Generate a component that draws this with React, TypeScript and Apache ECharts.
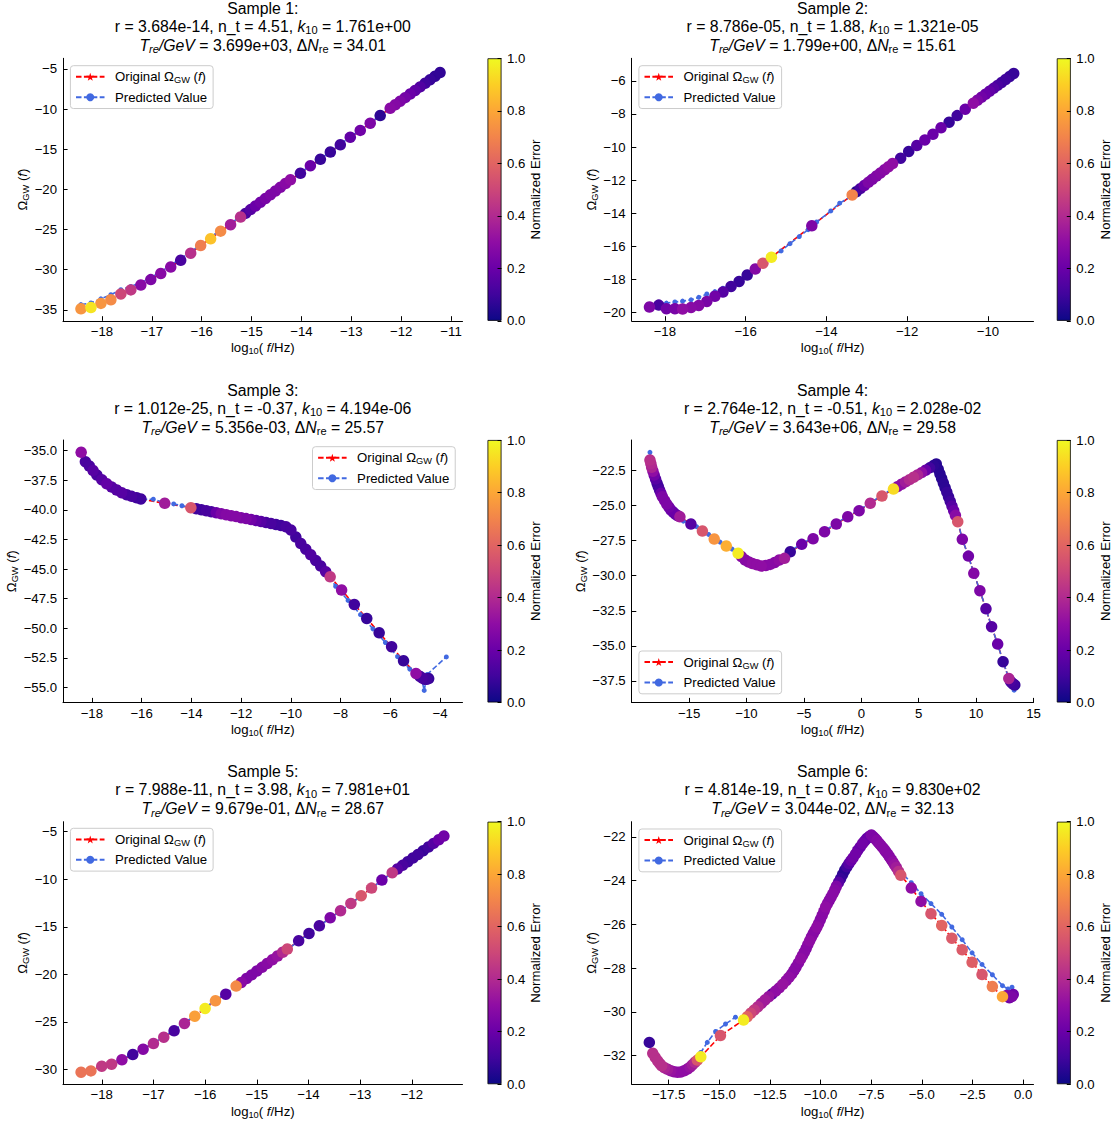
import React, { useEffect, useRef } from 'react';
import * as echarts from 'echarts';

// ---------------- Data ----------------
// Sample 1
const s1X = [-18.42,-18.22,-18.02,-17.82,-17.62,-17.42,-17.22,-17.02,-16.82,-16.62,-16.42,-16.22,-16.02,-15.82,-15.62,-15.42,-15.22,
  -15.12,-15.02,-14.92,-14.82,-14.72,-14.62,-14.52,-14.42,-14.32,-14.22,
  -14.02,-13.82,-13.62,-13.42,-13.22,-13.02,-12.82,-12.62,-12.42,-12.22,
  -12.12,-12.02,-11.92,-11.82,-11.72,-11.62,-11.52,-11.42,-11.32,-11.22];
const s1Y = [-34.87,-34.72,-34.2,-33.76,-33.02,-32.52,-31.92,-31.24,-30.48,-29.68,-28.84,-27.95,-27.0,-26.15,-25.2,-24.4,-23.45,
  -22.99,-22.52,-22.06,-21.59,-21.13,-20.66,-20.2,-19.73,-19.27,-18.8,
  -18.0,-17.05,-16.25,-15.35,-14.45,-13.5,-12.65,-11.75,-10.8,-9.9,
  -9.46,-9.01,-8.57,-8.12,-7.68,-7.23,-6.79,-6.34,-5.9,-5.45];
const s1Err = [0.75,0.95,0.75,0.72,0.5,0.45,0.28,0.25,0.28,0.28,0.12,0.42,0.68,0.87,0.72,0.35,0.42,
  0.12,0.15,0.2,0.22,0.24,0.25,0.25,0.26,0.28,0.3,
  0.1,0.2,0.08,0.08,0.1,0.18,0.22,0.25,0.06,0.28,
  0.27,0.25,0.23,0.2,0.17,0.14,0.1,0.08,0.07,0.07];
const s1PX = [-18.42,-18.22,-18.02,-17.82,-17.62,-17.42,-17.22,-17.02,-16.82,-16.62,-16.42,-16.22,-16.02,-15.82,-15.62,-15.42,-15.22,
  -14.92,-14.62,-14.32,-14.02,-13.82,-13.62,-13.42,-13.22,-13.02,-12.82,-12.62,-12.42,-12.22,-11.92,-11.62,-11.22];
const s1PY = [-34.35,-34.15,-33.63,-33.12,-32.5,-32.1,-31.6,-31.0,-30.25,-29.45,-28.6,-27.85,-26.8,-25.95,-25.05,-24.25,-23.35,
  -22.06,-20.66,-19.27,-17.95,-17.0,-16.2,-15.3,-14.4,-13.45,-12.6,-11.7,-10.8,-9.88,-8.58,-7.23,-5.45];

// Sample 2
const s2X = [-18.38,-18.15,-17.96,-17.75,-17.56,-17.35,-17.16,-16.96,-16.76,-16.56,-16.36,-16.16,-15.96,-15.76,-15.57,-15.36,-14.36,-13.36,
  -13.26,-13.16,-13.06,-12.96,-12.86,-12.76,-12.66,-12.56,-12.46,-12.36,
  -12.16,-11.96,-11.76,-11.56,-11.36,-11.16,-10.96,-10.76,-10.56,-10.36,
  -10.26,-10.16,-10.06,-9.96,-9.86,-9.76,-9.66,-9.56,-9.46,-9.36];
const s2Y = [-19.69,-19.57,-19.79,-19.79,-19.81,-19.71,-19.59,-19.35,-19.04,-18.78,-18.44,-18.14,-17.75,-17.39,-17.03,-16.67,-14.77,-12.9,
  -12.71,-12.52,-12.33,-12.14,-11.95,-11.76,-11.57,-11.38,-11.19,-11.0,
  -10.68,-10.27,-9.91,-9.57,-9.23,-8.84,-8.5,-8.1,-7.71,-7.35,
  -7.17,-6.99,-6.81,-6.63,-6.45,-6.27,-6.09,-5.91,-5.73,-5.55];
const s2Err = [0.25,0.12,0.22,0.24,0.3,0.28,0.27,0.24,0.22,0.15,0.1,0.08,0.08,0.27,0.55,0.97,0.25,0.7,
  0.05,0.12,0.2,0.25,0.25,0.26,0.27,0.28,0.3,0.3,
  0.1,0.08,0.15,0.2,0.2,0.2,0.08,0.1,0.2,0.3,
  0.25,0.22,0.2,0.18,0.15,0.12,0.1,0.1,0.08,0.08];
const s2PX = [-18.38,-18.15,-17.96,-17.75,-17.56,-17.35,-17.16,-16.96,-16.76,-16.56,-16.36,-16.16,-15.96,-15.76,-15.57,-15.36,
  -15.12,-14.9,-14.67,-14.45,-14.24,-13.89,-13.67,-13.36,-12.96,-12.56,-12.16,-11.76,-11.36,-10.96,-10.56,-10.36,-9.96,-9.56,-9.36];
const s2PY = [-19.65,-19.55,-19.45,-19.38,-19.33,-19.25,-19.1,-18.9,-18.75,-18.55,-18.35,-18.08,-17.72,-17.37,-17.05,-16.7,
  -16.29,-15.85,-15.42,-15.0,-14.54,-13.87,-13.4,-12.95,-12.14,-11.38,-10.68,-9.91,-9.23,-8.5,-7.71,-7.35,-6.63,-5.91,-5.55];

// Sample 3
const s3X = [-18.43,
  -18.26,-18.1,-17.95,-17.8,-17.6,-17.4,-17.2,-17.0,-16.8,-16.6,-16.4,-16.2,-16.03,
  -15.07,-14.02,
  -13.8,-13.6,-13.4,-13.2,-13.0,-12.8,-12.6,-12.4,-12.2,-12.0,-11.8,-11.6,-11.4,-11.2,-11.0,-10.8,-10.6,-10.4,-10.2,
  -10.0,-9.8,-9.6,-9.4,-9.2,-9.0,-8.8,-8.6,-8.42,
  -7.96,-7.45,-6.95,-6.45,-5.95,-5.47,-4.97,
  -4.82,-4.72,-4.62,-4.54,-4.46];
const s3Y = [-35.14,
  -35.93,-36.3,-36.68,-37.05,-37.45,-37.8,-38.08,-38.33,-38.55,-38.72,-38.86,-38.98,-39.08,
  -39.45,-39.82,
  -39.91,-39.99,-40.08,-40.16,-40.24,-40.33,-40.41,-40.49,-40.57,-40.66,-40.74,-40.82,-40.9,-40.99,-41.07,-41.15,-41.24,-41.32,-41.42,
  -41.7,-42.3,-42.85,-43.32,-43.8,-44.27,-44.75,-45.22,-45.65,
  -46.77,-47.99,-49.17,-50.38,-51.56,-52.75,-53.82,
  -54.05,-54.2,-54.3,-54.3,-54.25];
const s3Err = [0.3,
  0.12,0.12,0.15,0.12,0.15,0.18,0.15,0.15,0.15,0.12,0.12,0.1,0.1,
  0.35,0.55,
  0.1,0.1,0.12,0.12,0.2,0.25,0.27,0.27,0.27,0.25,0.25,0.22,0.18,0.15,0.12,0.12,0.1,0.1,0.12,
  0.12,0.1,0.12,0.12,0.14,0.12,0.12,0.15,0.45,
  0.3,0.1,0.08,0.08,0.1,0.08,0.3,
  0.1,0.12,0.1,0.1,0.08];
const s3PX = [-18.43,-18.26,-18.0,-17.6,-17.2,-16.8,-16.4,-16.03,-15.53,-15.07,-14.71,-14.38,-14.02,-13.4,-12.6,-11.8,-11.0,-10.2,
  -9.8,-9.4,-9.0,-8.6,-8.2,-7.7,-7.2,-6.7,-6.2,-5.71,-5.22,-4.97,-4.75,-4.64,-4.52,-3.75];
const s3PY = [-35.2,-35.95,-36.5,-37.45,-38.08,-38.55,-38.86,-39.1,-39.1,-39.4,-39.5,-39.65,-39.8,-40.08,-40.41,-40.74,-41.07,-41.42,
  -42.3,-43.32,-44.27,-45.22,-46.45,-47.65,-48.85,-50.05,-51.2,-52.4,-53.45,-53.8,-54.2,-55.25,-53.9,-52.42];

// Sample 4
const s4X = [-18.41,-18.33,-18.26,-18.15,-18.04,-17.92,-17.79,-17.68,-17.57,-17.45,-17.33,-17.14,-16.95,-16.76,-16.58,-16.37,-16.17,-15.98,-15.8,
  -14.84,-13.84,-12.81,-11.76,-10.73,
  -10.45,-10.11,-9.8,-9.49,-9.1,-8.71,-8.32,-7.93,-7.54,-7.15,-6.69,
  -6.19,-5.19,-4.2,-3.2,-2.18,-1.18,-0.19,0.78,1.8,2.8,
  3.15,3.5,3.85,4.2,4.55,4.9,5.25,5.6,5.95,6.3,6.53,
  6.7,6.85,7.0,7.15,7.3,7.45,7.6,7.75,7.9,8.05,8.2,8.4,
  8.8,9.33,9.8,10.33,10.86,11.35,11.88,12.35,12.85,
  13.0,13.12,13.25,13.37];
const s4Y = [-21.74,-22.0,-22.26,-22.54,-22.81,-23.1,-23.4,-23.64,-23.88,-24.12,-24.36,-24.62,-24.88,-25.1,-25.31,-25.47,-25.62,-25.72,-25.79,
  -26.31,-26.81,-27.38,-27.88,-28.4,
  -28.62,-28.88,-29.02,-29.12,-29.22,-29.31,-29.27,-29.19,-29.05,-28.88,-28.76,
  -28.29,-27.76,-27.36,-26.86,-26.31,-25.79,-25.36,-24.83,-24.31,-23.81,
  -23.64,-23.47,-23.3,-23.14,-22.97,-22.8,-22.64,-22.47,-22.3,-22.13,-22.02,
  -22.39,-22.72,-23.05,-23.38,-23.71,-24.04,-24.37,-24.7,-25.03,-25.36,-25.69,-26.14,
  -27.4,-28.6,-29.83,-31.07,-32.36,-33.64,-34.88,-36.14,-37.33,
  -37.55,-37.65,-37.75,-37.8];
const s4Err = [0.42,0.4,0.38,0.3,0.22,0.15,0.1,0.1,0.12,0.2,0.25,0.25,0.25,0.22,0.2,0.18,0.15,0.2,0.35,
  0.15,0.55,0.75,0.82,0.97,
  0.28,0.27,0.28,0.3,0.3,0.3,0.28,0.28,0.27,0.3,0.35,
  0.08,0.2,0.25,0.25,0.25,0.25,0.25,0.4,0.55,0.93,
  0.28,0.3,0.35,0.4,0.42,0.38,0.3,0.2,0.1,0.06,0.05,
  0.05,0.05,0.05,0.06,0.06,0.08,0.08,0.1,0.15,0.2,0.28,0.55,
  0.25,0.22,0.27,0.25,0.15,0.15,0.2,0.08,0.38,
  0.12,0.1,0.1,0.08];
const s4PX = [-18.41,-18.04,-17.57,-16.95,-16.17,-15.8,-15.5,-14.84,-14.35,-13.84,-13.3,-12.81,-12.3,-11.76,-11.25,-10.73,
  -10.11,-9.49,-8.71,-7.93,-7.15,-6.69,-6.19,-5.19,-4.2,-3.2,-2.18,-1.18,-0.19,0.78,1.8,2.8,4.2,5.6,6.53,
  7.15,7.9,8.4,8.8,9.33,9.8,10.33,10.86,11.35,11.88,12.35,12.85,13.1,13.31];
const s4PY = [-21.19,-22.75,-23.85,-24.85,-25.6,-25.8,-26.1,-26.3,-26.5,-26.75,-27.05,-27.3,-27.6,-27.8,-28.1,-28.35,
  -28.85,-29.1,-29.3,-29.2,-28.85,-28.7,-28.25,-27.7,-27.3,-26.8,-26.25,-25.75,-25.3,-24.8,-24.25,-23.75,-23.1,-22.45,-22.0,
  -23.38,-25.03,-26.1,-27.4,-28.6,-29.83,-31.07,-32.36,-33.64,-34.88,-36.14,-37.33,-37.7,-38.17];

// Sample 5
const s5X = [-18.4,-18.21,-18.0,-17.81,-17.61,-17.4,-17.2,-17.0,-16.8,-16.6,-16.4,-16.2,-16.0,-15.8,-15.6,-15.4,
  -15.3,-15.2,-15.1,-15.0,-14.9,-14.8,-14.7,-14.6,-14.5,-14.41,
  -14.19,-13.99,-13.79,-13.58,-13.38,-13.18,-12.98,-12.78,-12.58,-12.38,
  -12.28,-12.18,-12.08,-11.98,-11.88,-11.78,-11.68,-11.58,-11.48,-11.38];
const s5Y = [-30.28,-30.14,-29.65,-29.44,-28.98,-28.42,-27.86,-27.27,-26.6,-25.93,-25.16,-24.39,-23.58,-22.78,-22.08,-21.23,
  -20.84,-20.44,-20.05,-19.65,-19.26,-18.86,-18.47,-18.07,-17.68,-17.34,
  -16.47,-15.69,-14.89,-14.05,-13.31,-12.54,-11.73,-10.93,-10.08,-9.31,
  -8.93,-8.54,-8.16,-7.77,-7.39,-7.0,-6.62,-6.23,-5.85,-5.46];
const s5Err = [0.65,0.65,0.45,0.45,0.3,0.1,0.27,0.4,0.42,0.12,0.38,0.78,0.97,0.75,0.15,0.72,
  0.28,0.25,0.25,0.25,0.27,0.28,0.3,0.32,0.4,0.5,
  0.12,0.1,0.12,0.25,0.4,0.45,0.55,0.5,0.2,0.45,
  0.15,0.12,0.1,0.1,0.1,0.08,0.1,0.15,0.2,0.22];
const s5PX = [-18.4,-18.21,-18.0,-17.81,-17.61,-17.4,-17.2,-17.0,-16.8,-16.6,-16.4,-16.2,-16.0,-15.8,-15.6,-15.4,
  -15.0,-14.6,-14.41,-14.19,-13.99,-13.79,-13.58,-13.38,-13.18,-12.98,-12.78,-12.58,-12.38,-11.98,-11.58,-11.38];
const s5PY = [-30.1,-29.95,-29.55,-29.3,-28.9,-28.35,-27.8,-27.2,-26.55,-25.85,-25.1,-24.3,-23.5,-22.7,-22.0,-21.2,
  -19.65,-18.07,-17.4,-16.5,-15.72,-14.9,-14.08,-13.33,-12.55,-11.75,-10.95,-10.1,-9.33,-7.77,-6.23,-5.46];

// Sample 6
const s6X = [-18.45,-18.28,-18.16,-18.04,-17.94,-17.84,-17.7,-17.55,-17.39,-17.23,-17.06,-16.9,-16.73,-16.57,-16.44,-16.32,-16.2,-16.08,-15.91,-14.94,
  -13.8,-13.62,-13.45,-13.27,-13.09,-12.91,-12.74,-12.56,-12.39,-12.21,
  -12.04,-11.86,-11.69,-11.55,-11.42,-11.31,-11.21,-11.09,-10.98,-10.89,
  -10.8,-10.71,-10.63,-10.54,-10.45,-10.36,-10.27,-10.18,-10.1,-10.01,
  -9.92,-9.83,-9.75,-9.66,-9.57,-9.48,-9.39,-9.3,-9.22,-9.11,
  -9.01,-8.91,-8.81,-8.7,-8.6,-8.49,-8.39,-8.27,-8.16,-8.04,
  -7.93,-7.82,-7.72,-7.6,-7.49,
  -7.4,-7.31,-7.22,-7.14,-7.05,-6.96,-6.87,-6.79,-6.7,-6.61,-6.52,-6.43,-6.35,-6.26,-6.15,-6.04,
  -5.52,-5.04,-4.55,-4.02,-3.52,-3.01,-2.52,-2.03,-1.52,-1.02,
  -0.81,-0.68,-0.56,-0.49];
const s6Y = [-31.39,-31.89,-32.07,-32.23,-32.35,-32.46,-32.55,-32.62,-32.69,-32.73,-32.75,-32.74,-32.69,-32.61,-32.52,-32.41,-32.3,-32.2,-32.05,-31.08,
  -30.37,-30.22,-30.06,-29.91,-29.76,-29.6,-29.45,-29.31,-29.18,-29.04,
  -28.9,-28.73,-28.56,-28.41,-28.26,-28.1,-27.95,-27.76,-27.57,-27.42,
  -27.27,-27.1,-26.93,-26.75,-26.58,-26.42,-26.27,-26.12,-25.97,-25.78,
  -25.59,-25.4,-25.21,-25.05,-24.9,-24.75,-24.6,-24.43,-24.26,-24.08,
  -23.91,-23.72,-23.53,-23.37,-23.22,-23.08,-22.95,-22.78,-22.61,-22.46,
  -22.31,-22.19,-22.08,-21.99,-21.92,
  -22.0,-22.08,-22.17,-22.27,-22.36,-22.46,-22.56,-22.66,-22.77,-22.89,-23.02,-23.15,-23.27,-23.4,-23.58,-23.76,
  -24.34,-24.95,-25.51,-26.05,-26.63,-27.16,-27.73,-28.29,-28.84,-29.3,
  -29.25,-29.35,-29.3,-29.2];
const s6Err = [0.08,0.42,0.42,0.42,0.4,0.42,0.38,0.35,0.32,0.3,0.3,0.3,0.3,0.3,0.32,0.35,0.4,0.55,0.97,0.55,
  0.97,0.6,0.5,0.45,0.4,0.35,0.35,0.32,0.15,0.3,
  0.3,0.32,0.3,0.3,0.28,0.28,0.27,0.28,0.3,0.28,
  0.28,0.27,0.28,0.3,0.28,0.27,0.28,0.3,0.28,0.27,
  0.28,0.28,0.3,0.28,0.27,0.28,0.28,0.27,0.25,0.15,
  0.08,0.06,0.06,0.1,0.15,0.2,0.22,0.22,0.2,0.2,
  0.22,0.2,0.18,0.2,0.25,
  0.25,0.25,0.27,0.27,0.28,0.28,0.28,0.27,0.27,0.28,0.28,0.3,0.32,0.35,0.42,0.55,
  0.3,0.3,0.55,0.6,0.57,0.57,0.58,0.55,0.68,0.8,
  0.25,0.22,0.25,0.22];
const s6PX = [-18.45,-18.16,-17.84,-17.39,-16.9,-16.44,-16.08,-15.91,-15.59,-15.18,-14.69,-14.2,-13.8,-13.09,-12.04,-11.21,-10.45,-9.75,-9.01,-8.39,-7.93,-7.49,
  -6.96,-6.43,-6.04,-5.52,-5.04,-4.55,-4.02,-3.52,-3.01,-2.52,-2.03,-1.52,-1.02,-0.75,-0.55,-0.41];
const s6PY = [-31.5,-32.0,-32.42,-32.65,-32.7,-32.45,-32.05,-31.85,-31.39,-30.89,-30.55,-30.24,-30.3,-29.76,-28.9,-27.95,-26.58,-25.21,-23.91,-22.95,-22.31,-21.85,
  -22.46,-23.1,-23.6,-24.1,-24.6,-25.05,-25.54,-26.12,-26.7,-27.3,-27.83,-28.3,-28.8,-28.95,-28.87,-29.25];

// Title parameters
const titleR = ['3.684e-14', '8.786e-05', '1.012e-25', '2.764e-12', '7.988e-11', '4.814e-19'];
const titleNt = ['4.51', '1.88', '-0.37', '-0.51', '3.98', '0.87'];
const titleK = ['1.761e+00', '1.321e-05', '4.194e-06', '2.028e-02', '7.981e+01', '9.830e+02'];
const titleT = ['3.699e+03', '1.799e+00', '5.356e-03', '3.643e+06', '9.679e-01', '3.044e-02'];
const titleN = ['34.01', '15.61', '25.57', '29.58', '28.67', '32.13'];

// Tick values
const xTicks = [
  [-18, -17, -16, -15, -14, -13, -12, -11],
  [-18, -16, -14, -12, -10],
  [-18, -16, -14, -12, -10, -8, -6, -4],
  [-15, -10, -5, 0, 5, 10, 15],
  [-18, -17, -16, -15, -14, -13, -12],
  [-17.5, -15, -12.5, -10, -7.5, -5, -2.5, 0],
];
const yTicks = [
  [-35, -30, -25, -20, -15, -10, -5],
  [-20, -18, -16, -14, -12, -10, -8, -6],
  [-55, -52.5, -50, -47.5, -45, -42.5, -40, -37.5, -35],
  [-37.5, -35, -32.5, -30, -27.5, -25, -22.5],
  [-30, -25, -20, -15, -10, -5],
  [-32, -30, -28, -26, -24, -22],
];
const xDec = [0, 0, 0, 0, 0, 1];
const yDec = [0, 0, 1, 1, 0, 0];
const cbTicks = [0, 0.2, 0.4, 0.6, 0.8, 1.0];
const cbRange = [0, 1];

// ---------------- Layout / style ----------------
const XMIN = [-18.78, -18.82, -19.16, -20.0, -18.75, -19.32];
const XMAX = [-10.77, -8.87, -3.1, 15.0, -11.02, 0.51];
const YMIN = [-36.37, -20.52, -56.27, -39.05, -31.54, -33.3];
const YMAX = [-3.67, -4.63, -34.1, -20.31, -3.95, -21.31];

const GL = [63, 631.7, 63, 631.7, 63, 631.7];
const GT = [58.3, 58.3, 440, 440, 821.7, 821.7];
const GW = [399.5, 401.8, 399.5, 401.8, 399.5, 401.8];
const GH = 262.5;
const CBL = [487.5, 1056.8, 487.5, 1056.8, 487.5, 1056.8];
const CBW = 14;
const LL = [70.4, 638.9, 312.5, 638.9, 70.4, 638.9];
const LT = [65.7, 65.7, 446.7, 651, 828.3, 829];

const FONT = '"Liberation Sans", Arial, Helvetica, sans-serif';
const FS = 13.2;
const TFS = 15.8;
const PLASMA = ['#0d0887', '#41049d', '#6a00a8', '#8f0da4', '#b12a90', '#cc4778', '#e16462', '#f2844b', '#fca636', '#fcce25', '#f0f921'];
const STAR = 'path://M0,-10 L2.35,-3.24 L9.51,-3.09 L3.8,1.24 L5.88,8.09 L0,4 L-5.88,8.09 L-3.8,1.24 L-9.51,-3.09 L-2.35,-3.24 Z';
const MINUS = '\u2212';
const DASH = [5.5, 2.4];

const fmt = (dec: number) => (v: number) => (v < 0 ? MINUS : '') + Math.abs(v).toFixed(dec);

const labelRich = (fs: number) => ({
  n: { fontSize: fs, fontFamily: FONT, color: '#000', lineHeight: fs * 1.2, verticalAlign: 'middle' },
  i: { fontSize: fs, fontFamily: FONT, color: '#000', fontStyle: 'italic', lineHeight: fs * 1.2, verticalAlign: 'middle' },
  s: { fontSize: fs * 0.7, fontFamily: FONT, color: '#000', lineHeight: fs * 0.6, verticalAlign: 'bottom' },
  si: { fontSize: fs * 0.7, fontFamily: FONT, color: '#000', fontStyle: 'italic', lineHeight: fs * 0.6, verticalAlign: 'bottom' },
  sp: { fontSize: fs, width: 5.5 },
});
const gfxRich = (fs: number) => ({
  n: { fontSize: fs, fontFamily: FONT, fill: '#000', lineHeight: fs * 1.2, verticalAlign: 'middle' },
  i: { fontSize: fs, fontFamily: FONT, fill: '#000', fontStyle: 'italic', lineHeight: fs * 1.2, verticalAlign: 'middle' },
  s: { fontSize: fs * 0.7, fontFamily: FONT, fill: '#000', lineHeight: fs * 0.6, verticalAlign: 'bottom' },
  si: { fontSize: fs * 0.7, fontFamily: FONT, fill: '#000', fontStyle: 'italic', lineHeight: fs * 0.6, verticalAlign: 'bottom' },
});

const samples = [
  { x: s1X, y: s1Y, e: s1Err, px: s1PX, py: s1PY },
  { x: s2X, y: s2Y, e: s2Err, px: s2PX, py: s2PY },
  { x: s3X, y: s3Y, e: s3Err, px: s3PX, py: s3PY },
  { x: s4X, y: s4Y, e: s4Err, px: s4PX, py: s4PY },
  { x: s5X, y: s5Y, e: s5Err, px: s5PX, py: s5PY },
  { x: s6X, y: s6Y, e: s6Err, px: s6PX, py: s6PY },
];

function buildOption() {
  const mainGrid: any[] = [], cbGrid: any[] = [];
  const mainX: any[] = [], cbX: any[] = [];
  const mainY: any[] = [], cbY: any[] = [];
  const series: any[] = [];
  const legend: any[] = [];
  const graphic: any[] = [];
  const scatterIdx: number[] = [];
  const axRich = labelRich(FS);
  const tRich = gfxRich(TFS);

  const xName = '{n|log}{s|10}{n|( }{i|f}{n|/Hz)}';
  const yName = '{n|Ω}{s|GW}{n| (}{i|f}{n|)}';

  for (let i = 0; i < 6; i++) {
    const s = samples[i];
    mainGrid.push({ left: GL[i], top: GT[i], width: GW[i], height: GH });
    mainX.push({
      type: 'value', gridIndex: i, min: XMIN[i], max: XMAX[i],
      axisLine: { onZero: false, lineStyle: { color: '#000', width: 1 } },
      axisTick: { inside: true, length: 4.6, lineStyle: { color: '#000', width: 1 }, customValues: xTicks[i] },
      axisLabel: { customValues: xTicks[i], formatter: fmt(xDec[i]), fontSize: FS, fontFamily: FONT, color: '#000', margin: 4 },
      splitLine: { show: false },
      name: xName, nameLocation: 'middle', nameGap: 19,
      nameTextStyle: { fontSize: FS, fontFamily: FONT, color: '#000', rich: axRich },
    });
    mainY.push({
      type: 'value', gridIndex: i, min: YMIN[i], max: YMAX[i],
      axisLine: { onZero: false, lineStyle: { color: '#000', width: 1 } },
      axisTick: { inside: true, length: 4.6, lineStyle: { color: '#000', width: 1 }, customValues: yTicks[i] },
      axisLabel: { customValues: yTicks[i], formatter: fmt(yDec[i]), fontSize: FS, fontFamily: FONT, color: '#000', margin: 6 },
      splitLine: { show: false },
      name: yName, nameLocation: 'middle', nameRotate: 90, nameGap: 32,
      nameTextStyle: { fontSize: FS, fontFamily: FONT, color: '#000', rich: axRich },
    });

    series.push({
      type: 'line', name: 'Original', xAxisIndex: i, yAxisIndex: i,
      data: s.x.map((v, j) => [v, s.y[j]]),
      symbol: STAR, symbolSize: 7, showSymbol: true,
      lineStyle: { color: '#ff0000', width: 1.6, type: DASH },
      itemStyle: { color: '#ff0000' }, z: 2, silent: true,
    });
    series.push({
      type: 'line', name: 'Predicted', xAxisIndex: i, yAxisIndex: i,
      data: s.px.map((v, j) => [v, s.py[j]]),
      symbol: 'circle', symbolSize: 5, showSymbol: true,
      lineStyle: { color: '#4169e1', width: 1.6, type: DASH },
      itemStyle: { color: '#4169e1' }, z: 3, silent: true,
    });
    const rows = s.x.map((v, j) => [v, s.y[j], s.e[j]]).sort((a, b) => a[2] - b[2]);
    scatterIdx.push(series.length);
    series.push({
      type: 'scatter', name: 'Error', xAxisIndex: i, yAxisIndex: i,
      data: rows, symbol: 'circle', symbolSize: 11.5, z: 4, silent: true,
      itemStyle: { opacity: 1 },
    });

    legend.push({
      show: true, orient: 'vertical', left: LL[i], top: LT[i],
      data: ['Original', 'Predicted'], selectedMode: false,
      backgroundColor: 'rgba(255,255,255,0.8)', borderColor: '#cccccc', borderWidth: 1, borderRadius: 3,
      padding: [4.6, 6, 4.8, 4.6], itemGap: 6, itemWidth: 28.5, itemHeight: 10,
      formatter: (name: string) => name === 'Original'
        ? '{sp| }{n|Original Ω}{s|GW}{n| (}{i|f}{n|)}'
        : '{sp| }{n|Predicted Value}',
      textStyle: { fontSize: FS, fontFamily: FONT, color: '#000', rich: axRich },
      z: 10,
    });

    // colorbar
    const gi = 6 + i;
    cbGrid.push({ left: CBL[i], top: GT[i], width: CBW, height: GH });
    cbX.push({ type: 'category', gridIndex: gi, data: ['err'], show: false });
    cbY.push({
      type: 'value', gridIndex: gi, min: cbRange[0], max: cbRange[1], position: 'right', z: 5,
      axisLine: { show: false },
      axisTick: { show: true, inside: true, length: 4, lineStyle: { color: '#000' }, customValues: cbTicks },
      axisLabel: { customValues: cbTicks, formatter: (v: number) => v.toFixed(1), fontSize: FS, fontFamily: FONT, color: '#000', margin: 5.5 },
      splitLine: { show: false },
      name: 'Normalized Error', nameLocation: 'middle', nameRotate: 90, nameGap: 25,
      nameTextStyle: { fontSize: FS, fontFamily: FONT, color: '#000' },
    });

    // titles
    const cx = GL[i] + GW[i] / 2;
    const lines = [
      `{n|Sample ${i + 1}:}`,
      `{n|r = ${titleR[i]}, n_t = ${titleNt[i]}, }{i|k}{s|10}{n| = ${titleK[i]}}`,
      `{i|T}{si|re}{i|/GeV}{n| = ${titleT[i]}, Δ}{i|N}{s|re}{n| = ${titleN[i]}}`,
    ];
    const offs = [50, 32, 13];
    lines.forEach((t, k) => {
      graphic.push({
        type: 'text', x: cx, y: GT[i] - offs[k], silent: true,
        style: {
          text: t, fill: '#000', fontSize: TFS, fontFamily: FONT,
          align: 'center', verticalAlign: 'middle', textAlign: 'center', textVerticalAlign: 'middle',
          rich: tRich,
        },
      });
    });
  }

  for (let i = 0; i < 6; i++) {
    const gi = 6 + i;
    series.push({
      type: 'bar', name: 'colorbar', xAxisIndex: gi, yAxisIndex: gi,
      data: [cbRange[1]], barWidth: '100%', silent: true, z: 1,
      itemStyle: {
        color: new echarts.graphic.LinearGradient(0, 1, 0, 0, PLASMA.map((c, k) => ({ offset: k / (PLASMA.length - 1), color: c }))),
        borderColor: '#000', borderWidth: 0.8,
      },
    });
  }

  return {
    animation: false,
    backgroundColor: '#ffffff',
    textStyle: { fontFamily: FONT },
    grid: [...mainGrid, ...cbGrid],
    xAxis: [...mainX, ...cbX],
    yAxis: [...mainY, ...cbY],
    series, legend,
    graphic: { elements: graphic },
    visualMap: {
      type: 'continuous', show: false, min: cbRange[0], max: cbRange[1], dimension: 2,
      seriesIndex: scatterIdx, inRange: { color: PLASMA },
    },
  };
}

export default function App() {
  const ref = useRef<HTMLDivElement>(null);
  useEffect(() => {
    if (!ref.current) return;
    const chart = echarts.init(ref.current, null, { renderer: 'svg' });
    chart.setOption(buildOption() as any);
    return () => chart.dispose();
  }, []);
  return (
    <div
      ref={ref}
      style={{ position: 'absolute', left: 0, top: 0, width: 1113, height: 1125, background: '#fff' }}
    />
  );
}
